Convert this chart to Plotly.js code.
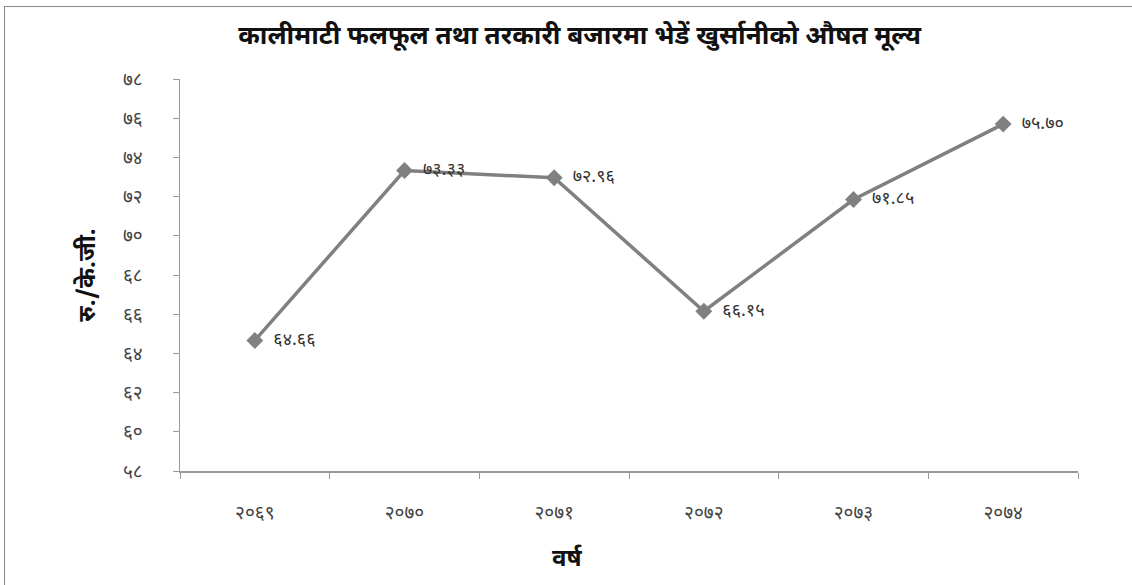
<!DOCTYPE html>
<html>
<head>
<meta charset="utf-8">
<script src="https://cdn.plot.ly/plotly-3.0.1.min.js"></script>
<style>
  html, body { margin: 0; padding: 0; background: #fff; }
  #frame { position: absolute; left: 4px; top: 6px; width: 1140px; height: 600px; border-top: 1px solid #8a8a8a; border-left: 1px solid #8a8a8a; }
  #chart { position: absolute; left: 0; top: 0; width: 1132px; height: 585px; }
</style>
</head>
<body>
<div id="frame"></div>
<div id="chart"></div>
<script>
// Average price of sweet pepper at Kalimati fruit & vegetable market, per fiscal year
const years = [2069, 2070, 2071, 2072, 2073, 2074];
const prices = [64.66, 73.33, 72.96, 66.15, 71.85, 75.70];
const yTicks = [58, 60, 62, 64, 66, 68, 70, 72, 74, 76, 78];

const chartTitle = 'कालीमाटी फलफूल तथा तरकारी बजारमा भेडें खुर्सानीको औषत मूल्य';
const yTitle = 'रु./के.जी.';
const xTitle = 'वर्ष';

const devaDigits = ['०','१','२','३','४','५','६','७','८','९'];
function toDeva(s) {
  return String(s).replace(/[0-9]/g, d => devaDigits[+d]);
}

const FONT = '"Noto Sans Devanagari", "Noto Sans", "Lohit Devanagari", sans-serif';
const xLabels = years.map(toDeva);

const trace = {
  type: 'scatter',
  mode: 'lines+markers+text',
  x: xLabels,
  y: prices,
  text: prices.map(v => '  ' + toDeva(v.toFixed(2))),
  textposition: 'middle right',
  textfont: { family: FONT, size: 18, color: '#333' },
  line: { color: '#808080', width: 3.5 },
  marker: { symbol: 'diamond', size: 13, color: '#808080' },
  cliponaxis: false,
  hoverinfo: 'skip'
};

const layout = {
  width: 1132, height: 585,
  paper_bgcolor: 'rgba(0,0,0,0)',
  plot_bgcolor: 'rgba(0,0,0,0)',
  margin: { l: 180, r: 54, t: 79, b: 114 },
  showlegend: false,
  font: { family: FONT, color: '#333' },
  title: {
    text: chartTitle,
    font: { family: FONT, size: 26, color: '#111', weight: 'bold' },
    x: 0.512, xanchor: 'center', y: 0.94, yanchor: 'middle'
  },
  xaxis: {
    type: 'category',
    range: [-0.5, 5.5],
    tickson: 'boundaries',
    ticks: 'outside', ticklen: 6, tickcolor: '#999',
    showline: true, linecolor: '#999', linewidth: 1.5,
    showgrid: false, zeroline: false,
    tickfont: { family: FONT, size: 19, color: '#444' },
    ticklabelstandoff: 24
  },
  yaxis: {
    range: [58, 78],
    tickvals: yTicks,
    ticktext: yTicks.map(toDeva),
    ticks: 'outside', ticklen: 6, tickcolor: '#999',
    showline: true, linecolor: '#999', linewidth: 1.5,
    showgrid: false, zeroline: false,
    tickfont: { family: FONT, size: 19, color: '#444' },
    ticklabelstandoff: 26,
    title: { text: yTitle, font: { family: FONT, size: 24, color: '#111', weight: 'bold' }, standoff: 20 }
  },
  annotations: [{
    text: xTitle, xref: 'paper', yref: 'paper',
    x: (567 - 180) / (1132 - 180 - 54), y: -0.228, xanchor: 'center', yanchor: 'middle',
    showarrow: false,
    font: { family: FONT, size: 24, color: '#111', weight: 'bold' }
  }]
};

Plotly.newPlot('chart', [trace], layout, { displayModeBar: false, staticPlot: true });
</script>
</body>
</html>
